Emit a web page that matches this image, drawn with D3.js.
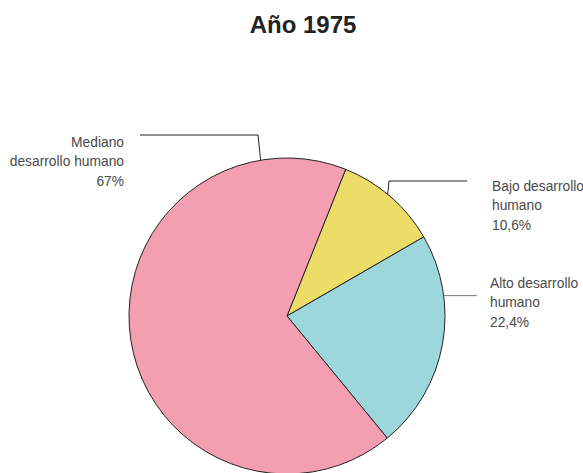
<!DOCTYPE html>
<html>
<head>
<meta charset="utf-8">
<script src="https://cdn.jsdelivr.net/npm/d3@7"></script>
<style>
  body { margin: 0; background: #fff; }
  text { font-family: "Liberation Sans", Arial, sans-serif; }
</style>
</head>
<body>
<div id="chart"></div>
<script>
// data
var categories = ["Bajo desarrollo humano", "Alto desarrollo humano", "Mediano desarrollo humano"];
var values = [10.6, 22.4, 67];
var labelLines = [
  ["Bajo desarrollo", "humano", "10,6%"],
  ["Alto desarrollo", "humano", "22,4%"],
  ["Mediano", "desarrollo humano", "67%"]
];
var colors = ["#ecdd66", "#9bd7db", "#f49fb1"];

// set the dimensions of the graph
var width = 583, height = 473;
var cx = 287, cy = 316, radius = 158;

var svg = d3.select("#chart")
  .append("svg")
    .attr("width", width)
    .attr("height", height);

// title
svg.append("text")
  .attr("x", 303)
  .attr("y", 33)
  .attr("text-anchor", "middle")
  .style("font-size", "24px")
  .style("font-weight", "bold")
  .style("fill", "#222")
  .text("Año 1975");

var g = svg.append("g")
  .attr("transform", "translate(" + cx + "," + cy + ")");

var startAngle = 21.8 * Math.PI / 180;
var pie = d3.pie()
  .sort(null)
  .startAngle(startAngle)
  .endAngle(startAngle + 2 * Math.PI);

var arcs = pie(values);

var arc = d3.arc()
  .innerRadius(0)
  .outerRadius(radius);

g.selectAll("path.slice")
  .data(arcs)
  .enter()
  .append("path")
    .attr("class", "slice")
    .attr("d", arc)
    .style("fill", function(d, i) { return colors[i]; })
    .style("stroke", "#222")
    .style("stroke-width", 1);

// label layout: anchor angle on the rim (deg), elbow point, text position
var layout = [
  {angle: 39.6, elbow: [389, 181], end: [467, 181], tx: 492, ty: 186, anchor: "start", stroke: "#222"},
  {angle: 82.6, elbow: null, end: [477, 296], tx: 490, ty: 283, anchor: "start", stroke: "#777"},
  {angle: -9.6, elbow: [258, 135], end: [140, 135], tx: 124, ty: 142, anchor: "end", stroke: "#222"}
];

layout.forEach(function(l, i) {
  var a = l.angle * Math.PI / 180;
  var p0 = [cx + radius * Math.sin(a), cy - radius * Math.cos(a)];
  var pts = l.elbow ? [p0, l.elbow, l.end] : [p0, [l.end[0], p0[1]]];
  svg.append("path")
    .attr("d", d3.line()(pts))
    .style("fill", "none")
    .style("stroke", l.stroke)
    .style("stroke-width", 1);

  var t = svg.append("text")
    .attr("text-anchor", l.anchor)
    .style("font-size", "13.8px")
    .style("fill", "#4a4a4a");
  labelLines[i].forEach(function(line, j) {
    t.append("tspan")
      .attr("x", l.tx)
      .attr("y", l.ty + j * 19.5)
      .attr("dy", "0.35em")
      .text(line);
  });
});
</script>
</body>
</html>
